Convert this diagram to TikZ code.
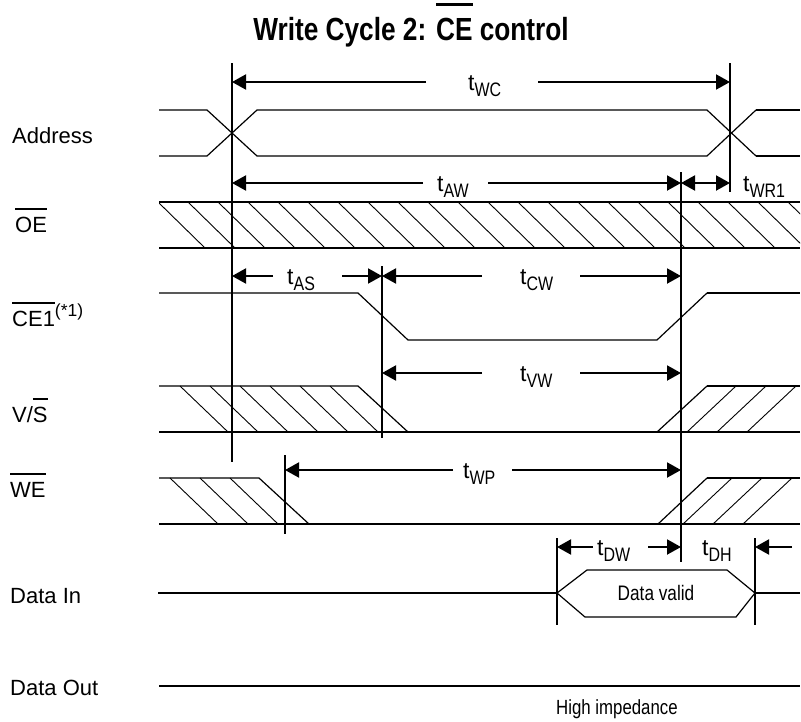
\documentclass[tikz,border=0pt]{standalone}
\usepackage{fontspec}
\setmainfont{Liberation Sans}
\newfontfamily\narrowfont[FakeStretch=0.82]{Liberation Sans}
\usetikzlibrary{arrows.meta}
\newsavebox\ovbox
\newcommand{\ovl}[1]{\sbox\ovbox{#1}\rlap{\rule[1.02em]{\wd\ovbox}{0.09em}}\usebox\ovbox}
\newcommand{\ovlt}[1]{\sbox\ovbox{#1}\rlap{\rule[1.06em]{\wd\ovbox}{0.1em}}\usebox\ovbox}
\newcommand{\tlab}[1]{{\fontsize{23}{23}\selectfont t\narrowfont\raisebox{-6pt}{\fontsize{19.5}{19.5}\selectfont #1}}}
\tikzset{
  sig/.style={line width=1.2pt},
  sigb/.style={line width=2pt},
  hatch/.style={line width=0.9pt},
  vline/.style={line width=2pt},
  dim/.style={line width=2pt, -{Triangle[length=14pt,width=15pt]}},
  dimboth/.style={line width=2pt, {Triangle[length=14pt,width=15pt]}-{Triangle[length=14pt,width=15pt]}},
  lab/.style={anchor=base west, inner sep=0pt, font=\fontsize{22}{22}\selectfont},
  tl/.style={anchor=base west, inner sep=0pt}
}
\begin{document}
\begin{tikzpicture}[x=1pt,y=-1pt]
\useasboundingbox (0,0) rectangle (801,721);

% title
\node[anchor=base, inner sep=0pt, font=\narrowfont\bfseries\fontsize{32}{32}\selectfont] (title) at (411,40) {Write Cycle 2: \ovlt{CE} control};

% signal labels
\node[lab] (lAddr) at (12,143) {Address};
\node[lab] (lOE) at (15,232) {\ovl{OE}};
\node[lab] (lCE) at (12,326) {\ovl{CE1}\raisebox{10pt}{\fontsize{17.5}{17.5}\selectfont(*1)}};
\node[lab] (lVS) at (12,422) {V/\ovl{S}};
\node[lab] (lWE) at (10,497) {\ovl{WE}};
\node[lab] (lDI) at (10,603) {Data In};
\node[lab] (lDO) at (10,695) {Data Out};

% Address bus
\draw[sig] (159,110) -- (207,110) -- (257,156) -- (707,156) -- (756,110);
\draw[sig] (159,156) -- (207,156) -- (257,110) -- (707,110) -- (756,156);
\draw[sigb] (756,110) -- (800,110);
\draw[sigb] (756,156) -- (800,156);

% OE hatched band
\begin{scope}
  \clip (159,202) rectangle (800,248);
  \foreach \k in {0,...,21} \draw[hatch] ({158+30*\k},202) -- ({205+30*\k},248);
\end{scope}
\draw[sigb] (159,202) -- (800,202);
\draw[sigb] (159,248) -- (800,248);

% CE1
\draw[sig] (159,293) -- (358,293) -- (408,340) -- (657,340) -- (707,293);
\draw[sigb] (707,293) -- (800,293);

% V/S
\foreach \k in {0,...,5} \draw[hatch] ({180+30*\k},386) -- ({228+30*\k},432);
\draw[sig] (159,386) -- (358,386) -- (408,432);
\draw[sigb] (159,432) -- (408,432);
\draw[sig] (408,432) -- (657,432);
\draw[sigb] (657,432) -- (800,432);
\foreach \k in {0,1,2} \draw[hatch] ({687+30*\k},432) -- ({736+30*\k},386);
\draw[sig] (657,432) -- (707,386);
\draw[sigb] (707,386) -- (800,386);

% WE
\foreach \k in {0,1,2} \draw[hatch] ({170+30*\k},478) -- ({218+30*\k},524);
\draw[sig] (159,478) -- (259,478) -- (309,524);
\draw[sigb] (159,524) -- (309,524);
\draw[sig] (309,524) -- (658,524);
\draw[sigb] (658,524) -- (800,524);
\foreach \k in {0,1,2} \draw[hatch] ({683+30*\k},524) -- ({732+30*\k},478);
\draw[sig] (658,524) -- (707,478);
\draw[sigb] (707,478) -- (800,478);

% Data In
\draw[sigb] (158,593) -- (557,593);
\draw[sig] (557,593) -- (587,570) -- (727,570) -- (755,593) -- (736,617) -- (585,617) -- cycle;
\draw[sigb] (755,593) -- (800,593);
\node[inner sep=0pt, font=\narrowfont\fontsize{21}{21}\selectfont] (dv) at (656,593) {Data valid};

% Data Out
\draw[sigb] (159,686) -- (800,686);
\node[anchor=base west, inner sep=0pt, font=\narrowfont\fontsize{20.5}{20.5}\selectfont] (hz) at (556,714) {High impedance};

% vertical reference lines
\draw[vline] (232,63) -- (232,462);
\draw[vline] (730,63) -- (730,192);
\draw[vline] (681,172) -- (681,562);
\draw[vline] (382,266) -- (382,438);
\draw[vline] (285,455) -- (285,534);
\draw[vline] (557,538) -- (557,625);
\draw[vline] (755,538) -- (755,625);

% tWC
\coordinate (wcA) at (232,82); \coordinate (wcB) at (426,82);
\coordinate (wcC) at (538,82); \coordinate (wcD) at (730,82);
\draw[dim] (wcB) -- (wcA); \draw[dim] (wcC) -- (wcD);
\node[tl] (tWC) at (468,90) {\tlab{WC}};

% tAW and tWR1
\coordinate (awA) at (232,183); \coordinate (awB) at (423,183);
\coordinate (awC) at (488,183); \coordinate (awD) at (681,183);
\coordinate (wrB) at (730,183);
\draw[dim] (awB) -- (awA); \draw[dim] (awC) -- (awD);
\draw[dimboth] (awD) -- (wrB);
\node[tl] (tAW) at (437,191) {\tlab{AW}};
\node[tl] (tWR) at (743,191) {\tlab{WR1}};

% tAS and tCW
\coordinate (asA) at (232,276); \coordinate (asB) at (273,276);
\coordinate (asC) at (342,276); \coordinate (asD) at (382,276);
\draw[dim] (asB) -- (asA); \draw[dim] (asC) -- (asD);
\node[tl] (tAS) at (287,284) {\tlab{AS}};
\coordinate (cwA) at (382,276); \coordinate (cwB) at (482,276);
\coordinate (cwC) at (580,276); \coordinate (cwD) at (681,276);
\draw[dim] (cwB) -- (cwA); \draw[dim] (cwC) -- (cwD);
\node[tl] (tCW) at (520,284) {\tlab{CW}};

% tVW
\coordinate (vwA) at (382,373); \coordinate (vwB) at (482,373);
\coordinate (vwC) at (580,373); \coordinate (vwD) at (681,373);
\draw[dim] (vwB) -- (vwA); \draw[dim] (vwC) -- (vwD);
\node[tl] (tVW) at (520,381) {\tlab{VW}};

% tWP
\coordinate (wpA) at (285,470); \coordinate (wpB) at (453,470);
\coordinate (wpC) at (512,470); \coordinate (wpD) at (681,470);
\draw[dim] (wpB) -- (wpA); \draw[dim] (wpC) -- (wpD);
\node[tl] (tWP) at (463,478) {\tlab{WP}};

% tDW and tDH
\coordinate (dwA) at (557,547); \coordinate (dwB) at (593,547);
\coordinate (dwC) at (648,547); \coordinate (dwD) at (681,547);
\draw[dim] (dwB) -- (dwA); \draw[dim] (dwC) -- (dwD);
\node[tl] (tDW) at (597,555) {\tlab{DW}};
\coordinate (dhA) at (755,547); \coordinate (dhB) at (792,547);
\draw[dim] (dhB) -- (dhA);
\node[tl] (tDH) at (702,555) {\tlab{DH}};
\end{tikzpicture}
\end{document}
